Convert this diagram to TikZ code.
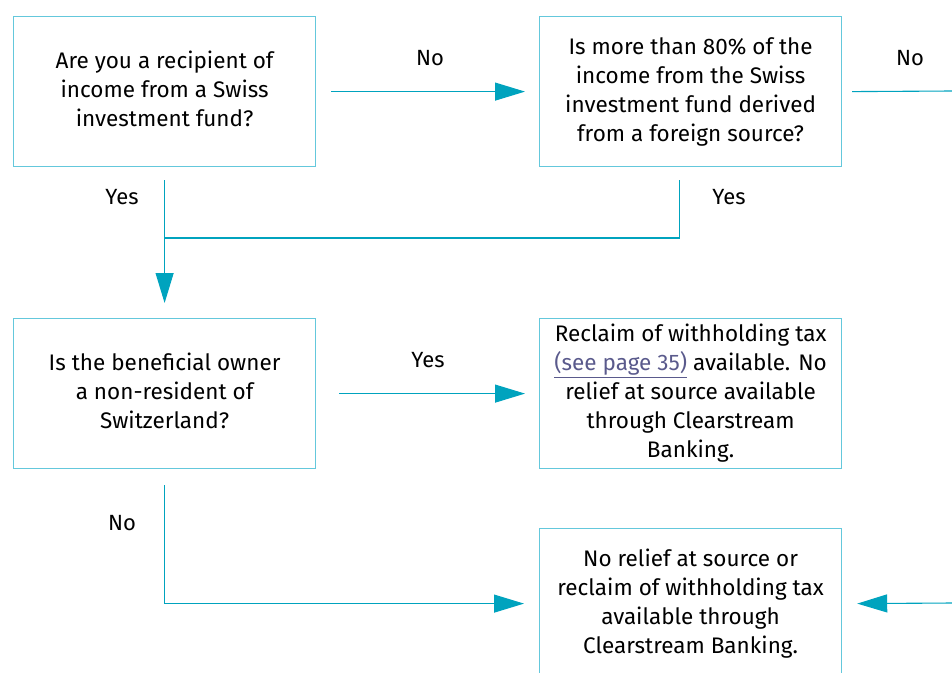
\documentclass[tikz,border=0pt]{standalone}
\usepackage{fontspec}
\setmainfont{Fira Sans}
\usetikzlibrary{arrows.meta}
\definecolor{linec}{RGB}{0,163,190}
\definecolor{boxc}{RGB}{100,200,220}
\definecolor{linkc}{RGB}{90,90,140}
\tikzset{
  x=1pt,y=-1pt,
  qbox/.style={draw=boxc,line width=1.2pt,minimum width=302pt,minimum height=150pt,inner sep=0pt,align=center,font=\fontsize{22.5}{29}\selectfont,anchor=north west},
  ln/.style={draw=linec,line width=1.1pt,line join=miter},
  arr/.style={ln,-{Triangle[length=30pt,width=18pt]}},
  lbl/.style={font=\fontsize{22}{24}\selectfont,inner sep=0pt}
}
\begin{document}
\begin{tikzpicture}
\useasboundingbox (0,0) rectangle (952,672);
\node[qbox] (b1) at (13,16) {Are you a recipient of\\income from a Swiss\\investment fund?\vphantom{$\big($}};
\node[qbox] (b2) at (539,16) {Is more than 80\% of the\\income from the Swiss\\investment fund derived\\from a foreign source?};
\node[qbox] (b3) at (13,318) {Is the beneficial owner\\a non-resident of\\Switzerland?\vphantom{$\big($}};
\node[qbox] (b4) at (539,318) {Reclaim of withholding tax\\\textcolor{linkc}{\underline{(see page 35)}} available. No\\relief at source available\\through Clearstream\\Banking.};
\node[qbox] (b5) at (539,528) {No relief at source or\\reclaim of withholding tax\\available through\\Clearstream Banking.};
% connector points
\coordinate (r1) at (952,91);
\coordinate (r2) at (952,603);
\coordinate (j1) at (164,238);
% arrows
\draw[arr] ([xshift=15]b1.east) -- ([xshift=-14]b2.west);
\draw[ln] ([xshift=10]b2.east) -- (r1);
\draw[arr] ([yshift=-13]b1.south) -- ([yshift=15]b3.north);
\draw[ln] ([xshift=-11.5,yshift=-13]b2.south) |- (j1);
\draw[arr] ([xshift=23]b3.east) -- ([xshift=-14]b4.west);
\draw[arr] ([yshift=-16]b3.south) |- ([xshift=-15]b5.west);
\draw[arr] (r2) -- ([xshift=15]b5.east);
% labels
\node[lbl] (l1) at (430,58) {No};
\node[lbl] (l2) at (910,58) {No};
\node[lbl] (l3) at (122,197) {Yes};
\node[lbl] (l4) at (729,197) {Yes};
\node[lbl] (l5) at (428,360) {Yes};
\node[lbl] (l6) at (122,523) {No};
\end{tikzpicture}
\end{document}
